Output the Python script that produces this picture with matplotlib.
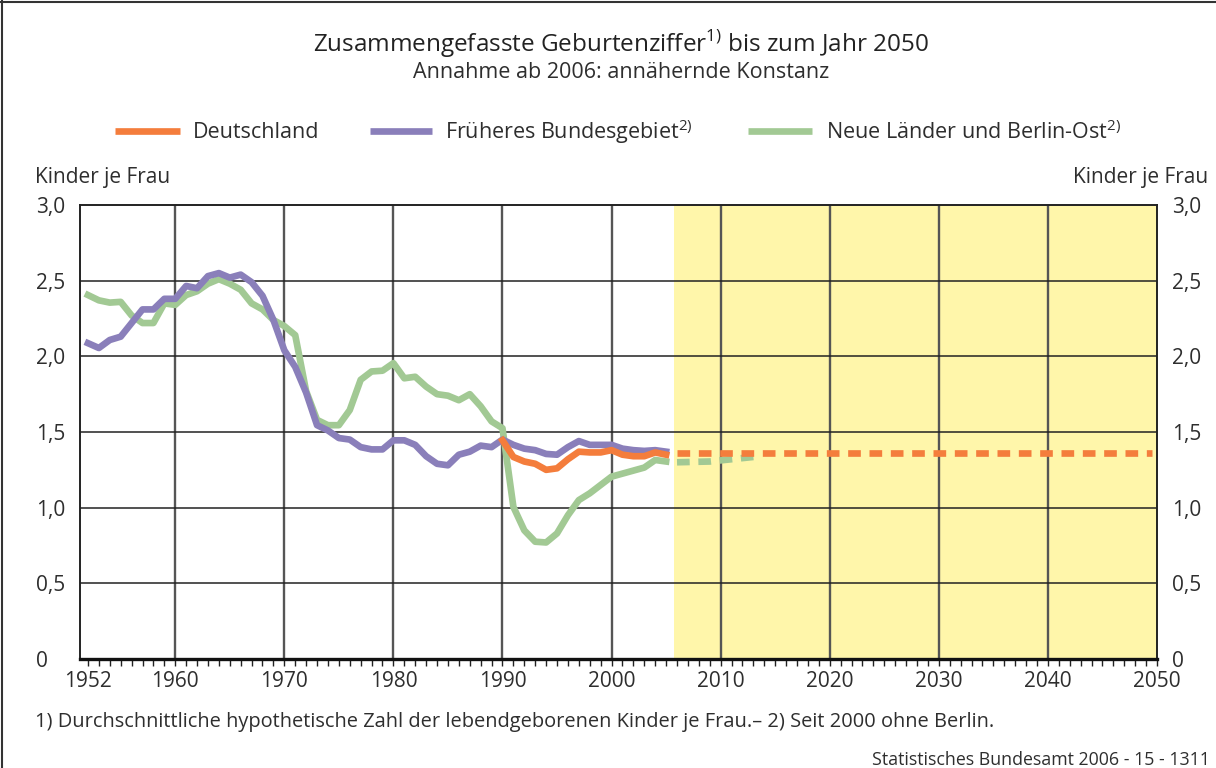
import matplotlib.pyplot as plt
from matplotlib.lines import Line2D

plt.rcParams['font.family'] = ['Open Sans', 'DejaVu Sans']
plt.rcParams['mathtext.fontset'] = 'custom'
plt.rcParams['mathtext.rm'] = 'Open Sans'

# --- data ---
years = list(range(1952, 2006))
west = [2.087, 2.055, 2.108, 2.13, 2.22, 2.31, 2.31, 2.38, 2.38, 2.465,
        2.45, 2.53, 2.55, 2.52, 2.54, 2.49, 2.40, 2.24, 2.04, 1.93,
        1.76, 1.545, 1.51, 1.46, 1.45, 1.40, 1.385, 1.385, 1.445, 1.445,
        1.415, 1.34, 1.29, 1.28, 1.35, 1.37, 1.41, 1.40, 1.45, 1.415,
        1.39, 1.38, 1.355, 1.35, 1.40, 1.44, 1.415, 1.415, 1.415, 1.39,
        1.38, 1.375, 1.38, 1.37]
east = [2.405, 2.37, 2.355, 2.36, 2.27, 2.22, 2.22, 2.35, 2.34, 2.405,
        2.43, 2.48, 2.51, 2.48, 2.44, 2.35, 2.31, 2.24, 2.20, 2.14,
        1.77, 1.58, 1.545, 1.545, 1.645, 1.845, 1.90, 1.905, 1.955, 1.855,
        1.865, 1.80, 1.75, 1.74, 1.71, 1.75, 1.67, 1.57, 1.525, 1.005,
        0.85, 0.775, 0.77, 0.83, 0.95, 1.05, 1.095, 1.15, 1.205, 1.225,
        1.245, 1.265, 1.315, 1.305]
years_de = list(range(1990, 2006))
de = [1.445, 1.335, 1.305, 1.29, 1.25, 1.26, 1.32, 1.37, 1.365, 1.365,
      1.38, 1.35, 1.34, 1.34, 1.365, 1.35]

# projection (Annahme ab 2006)
proj_years = [2006, 2049.5]
de_proj = [1.36, 1.36]
east_proj_years = [2006, 2009, 2011, 2013]
east_proj = [1.30, 1.305, 1.32, 1.335]

x_ticks = [1952, 1960, 1970, 1980, 1990, 2000, 2010, 2020, 2030, 2040, 2050]
decades = [1960, 1970, 1980, 1990, 2000, 2010, 2020, 2030, 2040]
y_ticks = [0, 0.5, 1.0, 1.5, 2.0, 2.5, 3.0]
y_labels = ['0', '0,5', '1,0', '1,5', '2,0', '2,5', '3,0']

ORANGE = '#f47d3c'
PURPLE = '#8a7fba'
GREEN = '#a2c994'
YELLOW = '#fff6aa'
TXT = '#2e2e2e'
FS = 15

W, H = 1216, 768
fig = plt.figure(figsize=(W / 100, H / 100), dpi=100)
ax = fig.add_axes([80 / W, 109 / H, 1077 / W, 454 / H])

ax.axvspan(2005.7, 2050, color=YELLOW, lw=0, zorder=0)
for x in decades:
    ax.axvline(x, color='#555555', lw=1.7, zorder=1)
for y in y_ticks[1:-1]:
    ax.axhline(y, color='#222222', lw=1.1, zorder=1)

lw = 4.8
ax.plot(years, east, color=GREEN, lw=lw, solid_joinstyle='round', zorder=3)
ax.plot(years, west, color=PURPLE, lw=lw, solid_joinstyle='round', zorder=4)
ax.plot(years_de, de, color=ORANGE, lw=lw, solid_joinstyle='round', zorder=5)
ax.plot(east_proj_years, east_proj, color=GREEN, lw=lw, dashes=(1.9, 1.3), zorder=3)
ax.plot(proj_years, de_proj, color=ORANGE, lw=lw, dashes=(1.9, 1.3), zorder=5)

ax.set_xlim(1951.27, 2050)
ax.set_ylim(0, 3)

for s in ['left', 'right', 'top']:
    ax.spines[s].set_linewidth(1.4)
    ax.spines[s].set_color('#222222')
ax.spines['bottom'].set_linewidth(2.4)
ax.spines['bottom'].set_color('#111111')

ax.set_xticks(x_ticks)
ax.set_xticklabels([str(x) for x in x_ticks], fontsize=FS, color=TXT)
ax.set_xticks(range(1952, 2051), minor=True)
ax.tick_params(axis='x', which='both', direction='out', length=5, width=1, color='#222222', pad=3.5)

ax.set_yticks(y_ticks)
ax.set_yticklabels(y_labels, fontsize=FS, color=TXT)
ax.tick_params(axis='y', length=0, pad=31.5)
for t in ax.get_yticklabels():
    t.set_horizontalalignment('left')

# right-hand labels
ax2 = ax.twinx()
ax2.set_ylim(0, 3)
ax2.set_yticks(y_ticks)
ax2.set_yticklabels(y_labels, fontsize=FS, color=TXT)
ax2.tick_params(axis='y', length=0, pad=10.5)
for s in ax2.spines.values():
    s.set_visible(False)

# titles
fig.text(621 / W, 1 - 44 / H, 'Zusammengefasste Geburtenziffer$^{1)}$ bis zum Jahr 2050',
         ha='center', va='center', fontsize=17.5, color='#222222')
fig.text(621 / W, 1 - 72 / H, 'Annahme ab 2006: annähernde Konstanz',
         ha='center', va='center', fontsize=15.5, color=TXT)

# legend
legend = [(115, 180, 193, ORANGE, 'Deutschland'),
          (370, 432, 445, PURPLE, 'Früheres Bundesgebiet$^{2)}$'),
          (748, 812, 826, GREEN, 'Neue Länder und Berlin-Ost$^{2)}$')]
for x0, x1, xt, c, lab in legend:
    fig.add_artist(Line2D([x0 / W, x1 / W], [1 - 131 / H] * 2, color=c, lw=4.8,
                          solid_capstyle='butt'))
    fig.text(xt / W, 1 - 132 / H, lab, ha='left', va='center', fontsize=15.5, color=TXT)

fig.text(35 / W, 1 - 178 / H, 'Kinder je Frau', ha='left', va='center', fontsize=FS, color=TXT)
fig.text(1208 / W, 1 - 178 / H, 'Kinder je Frau', ha='right', va='center', fontsize=FS, color=TXT)

fig.text(35 / W, 1 - 722 / H,
         '1) Durchschnittliche hypothetische Zahl der lebendgeborenen Kinder je Frau.– 2) Seit 2000 ohne Berlin.',
         ha='left', va='center', fontsize=14.4, color=TXT)
fig.text(872 / W, 1 - 760 / H, 'Statistisches Bundesamt 2006 - 15 - 1311',
         ha='left', va='center', fontsize=12.8, color=TXT)

# frame around the graphic
fig.add_artist(Line2D([1.5 / W, 1.5 / W], [0, 1], color='#333333', lw=1.5))
fig.add_artist(Line2D([0, 1], [1 - 1.5 / H, 1 - 1.5 / H], color='#333333', lw=1.5))

fig.savefig('out.png', dpi=100)
